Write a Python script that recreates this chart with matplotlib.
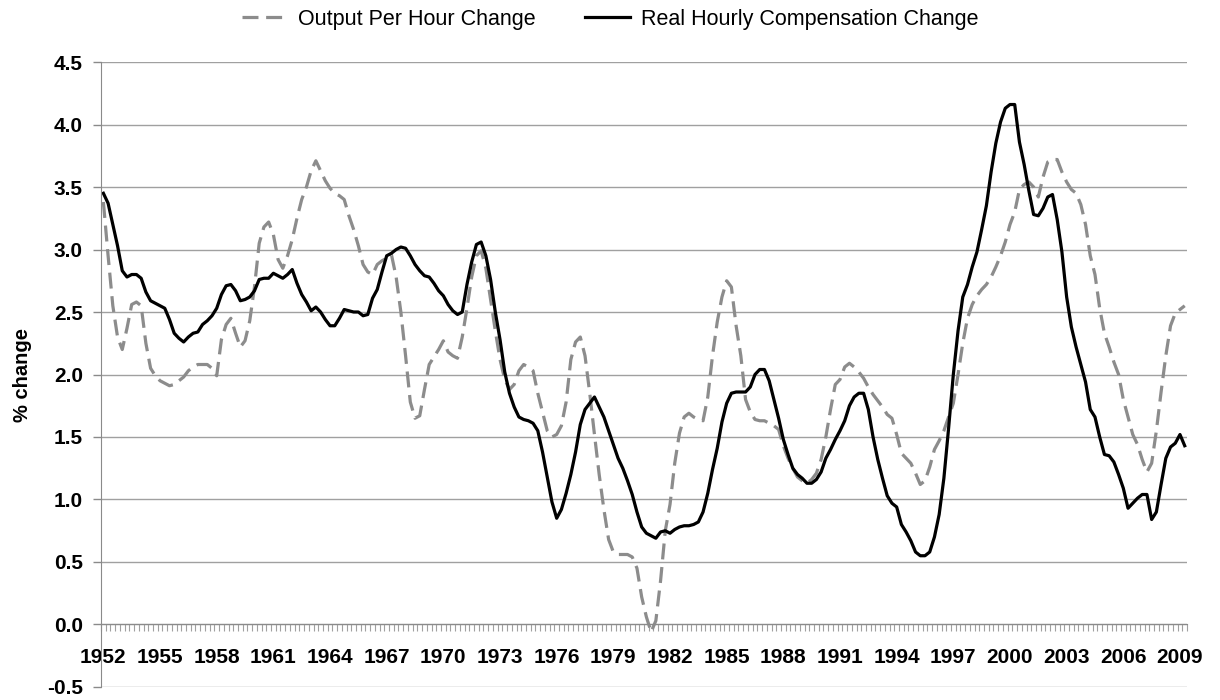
import numpy as np
import matplotlib.pyplot as plt

plt.rcParams['font.family'] = ['Liberation Sans', 'DejaVu Sans']

# quarterly values, 1952Q1 .. 2009Q2 (one row per year)
output_per_hour = [
    3.38, 2.95, 2.55, 2.30,   # 1952
    2.20, 2.37, 2.56, 2.58,
    2.55, 2.25, 2.05, 1.99,
    1.95, 1.93, 1.91, 1.92,   # 1955
    1.95, 1.98, 2.03, 2.06,
    2.08, 2.08, 2.08, 2.05,
    1.99, 2.28, 2.40, 2.45,   # 1958
    2.33, 2.22, 2.27, 2.43,
    2.70, 3.05, 3.18, 3.22,
    3.12, 2.92, 2.85, 2.95,   # 1961
    3.08, 3.25, 3.40, 3.50,
    3.63, 3.71, 3.63, 3.55,
    3.49, 3.45, 3.43, 3.40,   # 1964
    3.27, 3.16, 3.03, 2.88,
    2.82, 2.80, 2.88, 2.91,
    2.93, 2.96, 2.78, 2.50,   # 1967
    2.15, 1.78, 1.65, 1.67,
    1.88, 2.08, 2.14, 2.20,
    2.27, 2.18, 2.15, 2.13,   # 1970
    2.30, 2.53, 2.78, 2.95,
    2.99, 2.85, 2.60, 2.35,
    2.12, 1.96, 1.88, 1.92,   # 1973
    2.03, 2.08, 2.06, 2.03,
    1.85, 1.70, 1.55, 1.50,
    1.52, 1.59, 1.78, 2.12,   # 1976
    2.26, 2.30, 2.15, 1.85,
    1.52, 1.20, 0.92, 0.68,
    0.58, 0.56, 0.56, 0.56,   # 1979
    0.54, 0.45, 0.22, 0.06,
    -0.06, 0.03, 0.35, 0.75,
    0.96, 1.29, 1.53, 1.66,   # 1982
    1.69, 1.66, 1.64, 1.63,
    1.82, 2.15, 2.42, 2.62,
    2.75, 2.70, 2.39, 2.15,   # 1985
    1.80, 1.70, 1.64, 1.63,
    1.63, 1.61, 1.59, 1.56,
    1.43, 1.33, 1.25, 1.18,   # 1988
    1.15, 1.13, 1.16, 1.21,
    1.32, 1.50, 1.72, 1.92,
    1.96, 2.06, 2.09, 2.06,   # 1991
    2.02, 1.97, 1.90, 1.84,
    1.79, 1.74, 1.68, 1.65,
    1.52, 1.37, 1.33, 1.29,   # 1994
    1.21, 1.12, 1.15, 1.26,
    1.40, 1.47, 1.55, 1.66,
    1.77, 2.00, 2.25, 2.45,   # 1997
    2.56, 2.63, 2.68, 2.72,
    2.78, 2.86, 2.95, 3.06,
    3.20, 3.30, 3.48, 3.52,   # 2000
    3.54, 3.50, 3.42, 3.58,
    3.70, 3.72, 3.72, 3.62,
    3.54, 3.48, 3.45, 3.36,   # 2003
    3.20, 2.95, 2.80, 2.53,
    2.33, 2.22, 2.10, 2.00,
    1.80, 1.66, 1.52, 1.44,   # 2006
    1.32, 1.22, 1.29, 1.55,
    1.86, 2.15, 2.39, 2.49,
    2.52, 2.55,               # 2009
]

real_comp = [
    3.45, 3.37, 3.20, 3.03,   # 1952
    2.83, 2.78, 2.80, 2.80,
    2.77, 2.66, 2.59, 2.57,
    2.55, 2.53, 2.44, 2.33,   # 1955
    2.29, 2.26, 2.30, 2.33,
    2.34, 2.40, 2.43, 2.47,
    2.53, 2.64, 2.71, 2.72,   # 1958
    2.67, 2.59, 2.60, 2.62,
    2.67, 2.76, 2.77, 2.77,
    2.81, 2.79, 2.77, 2.80,   # 1961
    2.84, 2.73, 2.64, 2.58,
    2.51, 2.54, 2.50, 2.44,
    2.39, 2.39, 2.45, 2.52,   # 1964
    2.51, 2.50, 2.50, 2.47,
    2.48, 2.61, 2.68, 2.82,
    2.95, 2.97, 3.00, 3.02,   # 1967
    3.01, 2.95, 2.88, 2.83,
    2.79, 2.78, 2.73, 2.67,
    2.63, 2.56, 2.51, 2.48,   # 1970
    2.50, 2.72, 2.90, 3.04,
    3.06, 2.95, 2.76, 2.50,
    2.28, 2.02, 1.85, 1.74,   # 1973
    1.66, 1.64, 1.63, 1.61,
    1.55, 1.38, 1.18, 0.98,
    0.85, 0.92, 1.05, 1.20,   # 1976
    1.38, 1.60, 1.72, 1.77,
    1.82, 1.74, 1.66, 1.55,
    1.44, 1.33, 1.25, 1.15,   # 1979
    1.04, 0.90, 0.78, 0.73,
    0.71, 0.69, 0.74, 0.75,
    0.73, 0.76, 0.78, 0.79,   # 1982
    0.79, 0.80, 0.82, 0.90,
    1.05, 1.24, 1.41, 1.62,
    1.77, 1.85, 1.86, 1.86,   # 1985
    1.86, 1.90, 2.00, 2.04,
    2.04, 1.95, 1.80, 1.65,
    1.48, 1.36, 1.25, 1.20,   # 1988
    1.17, 1.13, 1.13, 1.16,
    1.22, 1.33, 1.40, 1.48,
    1.55, 1.63, 1.75, 1.82,   # 1991
    1.85, 1.85, 1.72, 1.50,
    1.32, 1.17, 1.03, 0.97,
    0.94, 0.80, 0.74, 0.67,   # 1994
    0.58, 0.55, 0.55, 0.58,
    0.70, 0.88, 1.17, 1.57,
    2.00, 2.35, 2.62, 2.72,   # 1997
    2.86, 2.98, 3.16, 3.35,
    3.62, 3.85, 4.02, 4.13,
    4.16, 4.16, 3.86, 3.68,   # 2000
    3.47, 3.28, 3.27, 3.33,
    3.42, 3.44, 3.24, 2.98,
    2.62, 2.38, 2.22, 2.08,   # 2003
    1.94, 1.72, 1.66, 1.50,
    1.36, 1.35, 1.30, 1.20,
    1.09, 0.93, 0.97, 1.01,   # 2006
    1.04, 1.04, 0.84, 0.90,
    1.12, 1.33, 1.42, 1.45,
    1.52, 1.43,               # 2009
]

first_year = 1952
tick_years = list(range(1952, 2010, 3))
y_ticks = [-0.5, 0.0, 0.5, 1.0, 1.5, 2.0, 2.5, 3.0, 3.5, 4.0, 4.5]

AXIS_GRAY = '#8a8a8a'
GRID_GRAY = '#a0a0a0'

n = len(real_comp)
x = np.arange(n)

fig = plt.figure(figsize=(12.2, 7.0), dpi=100)
ax = fig.add_axes([0.0828, 0.0186, 0.8902, 0.8928])

ax.plot(x, output_per_hour, color='#8c8c8c', lw=2.3, ls=(0, (5, 2.4)),
        label='Output Per Hour Change')
ax.plot(x, real_comp, color='black', lw=2.3, label='Real Hourly Compensation Change')

ax.set_xlim(-0.5, n - 0.5)
ax.set_ylim(-0.5, 4.5)

# y axis
ax.set_yticks(y_ticks)
ax.set_yticklabels(['%.1f' % v for v in y_ticks], fontsize=15, fontweight='bold')
ax.tick_params(axis='y', length=6, width=1, color=AXIS_GRAY, pad=7)
ax.grid(axis='y', color=GRID_GRAY, lw=1.0)
ax.set_axisbelow(True)
ax.set_ylabel('% change', fontsize=14.5, fontweight='bold')
ax.yaxis.set_label_coords(-0.064, 0.5)

# x axis sits on zero, quarter tick marks, year labels every 3 years
ax.spines['bottom'].set_position(('data', 0))
ax.spines['bottom'].set_color(AXIS_GRAY)
ax.spines['left'].set_color(AXIS_GRAY)
ax.spines['top'].set_visible(False)
ax.spines['right'].set_visible(False)

ax.set_xticks([(yr - first_year) * 4 for yr in tick_years])
ax.set_xticklabels([str(yr) for yr in tick_years], fontsize=15, fontweight='bold')
ax.set_xticks(np.arange(n + 1) - 0.5, minor=True)
ax.tick_params(axis='x', which='major', length=0, pad=17)
ax.tick_params(axis='x', which='minor', length=5, width=0.8, color=GRID_GRAY)

fig.legend(loc='upper center', bbox_to_anchor=(0.5, 1.015), ncol=2, frameon=False,
           fontsize=15.5, handlelength=2.1, handletextpad=0.5, columnspacing=2.3)

fig.savefig('out.png', dpi=100)
